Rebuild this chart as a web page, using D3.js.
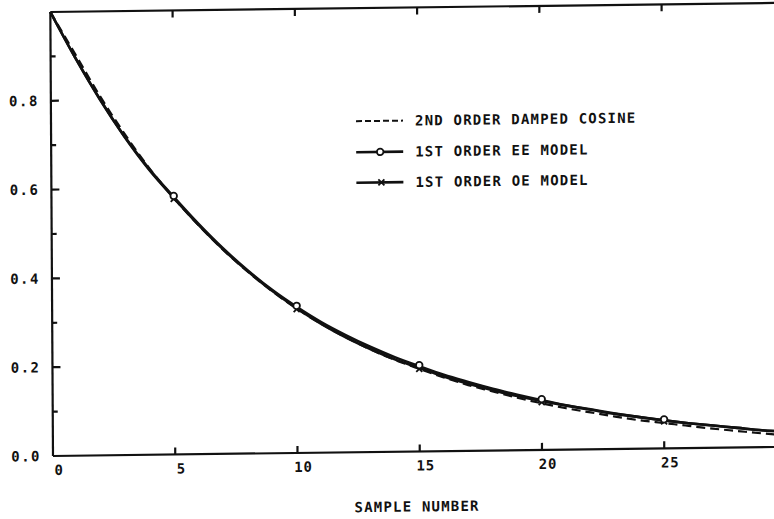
<!DOCTYPE html>
<html>
<head>
<meta charset="utf-8">
<script src="https://cdn.jsdelivr.net/npm/d3@7"></script>
<style>
  body { margin: 0; background: #fff; }
  text { font-family: "DejaVu Sans Mono", monospace; font-weight: bold; fill: #111; }
</style>
</head>
<body>
<div id="chart"></div>
<script>
// sample numbers
const samples = [0, 1, 2, 3, 4, 5, 6, 7, 8, 9, 10, 11, 12, 13, 14, 15, 16, 17, 18, 19, 20,
                 21, 22, 23, 24, 25, 26, 27, 28, 29, 30];

// 2nd order damped cosine (dashed)
const dampedCosine = [1.000, .905, .810, .724, .646, .578, .516, .460, .410, .365, .325,
                      .290, .259, .231, .207, .186, .166, .148, .133, .118, .105,
                      .093, .083, .073, .064, .057, .050, .043, .037, .031, .026];
// 1st order equation-error model (circles)
const eeModel = [1.000, .897, .803, .718, .644, .580, .519, .463, .413, .368, .329,
                 .294, .264, .237, .213, .192, .172, .155, .139, .125, .112,
                 .100, .090, .080, .071, .063, .056, .050, .044, .038, .034];
// 1st order output-error model (crosses)
const oeModel = [1.000, .897, .802, .717, .642, .578, .517, .461, .411, .366, .326,
                 .290, .259, .232, .208, .188, .168, .151, .136, .122, .110,
                 .099, .089, .079, .071, .063, .056, .050, .044, .038, .034];

const markerSamples = [5, 10, 15, 20, 25];
const xTicks = [0, 5, 10, 15, 20, 25];
const yTicks = [0, 0.2, 0.4, 0.6, 0.8];
const yMinorTicks = [0.1, 0.3, 0.5, 0.7, 0.9];
const legendLabels = ["2ND ORDER DAMPED COSINE", "1ST ORDER EE MODEL", "1ST ORDER OE MODEL"];
const axisTitle = "SAMPLE NUMBER";

const W = 774, H = 519;
const x0 = 53, yBase = 456, yTop = 12;
const unit = 24.45;

const svg = d3.select("#chart").append("svg")
  .attr("width", W).attr("height", H);

// the scanned page is slightly skewed
const sb = -0.0125, sc = 0.006;
const g = svg.append("g")
  .attr("transform", `matrix(1,${sb},${sc},1,${-sc * yBase},${-sb * x0})`);

const xScale = d3.scaleLinear().domain([0, 30]).range([x0, x0 + unit * 30]);
const yScale = d3.scaleLinear().domain([0, 1]).range([yBase, yTop]);

const ink = "#111";

// frame lines
const frame = g.append("g").attr("stroke", ink).attr("stroke-width", 2.2).attr("fill", "none");
frame.append("line").attr("x1", xScale(0)).attr("x2", xScale(30)).attr("y1", yScale(0)).attr("y2", yScale(0));
frame.append("line").attr("x1", xScale(0)).attr("x2", xScale(30)).attr("y1", yScale(1)).attr("y2", yScale(1));
frame.append("line").attr("x1", xScale(0)).attr("x2", xScale(0)).attr("y1", yScale(0)).attr("y2", yScale(1));

// x ticks, bottom (up) and top (down)
const xt = xTicks.filter(d => d > 0);
frame.selectAll(".xb").data(xt).join("line")
  .attr("x1", d => xScale(d)).attr("x2", d => xScale(d))
  .attr("y1", yScale(0)).attr("y2", yScale(0) - 7);
frame.selectAll(".xt").data(xt).join("line")
  .attr("x1", d => xScale(d)).attr("x2", d => xScale(d))
  .attr("y1", yScale(1)).attr("y2", yScale(1) + 7);

// y ticks, inward
frame.selectAll(".ym").data(yTicks.filter(d => d > 0)).join("line")
  .attr("x1", xScale(0)).attr("x2", xScale(0) + 8)
  .attr("y1", d => yScale(d)).attr("y2", d => yScale(d));
frame.selectAll(".yn").data(yMinorTicks).join("line")
  .attr("x1", xScale(0)).attr("x2", xScale(0) + 5)
  .attr("y1", d => yScale(d)).attr("y2", d => yScale(d));

// tick labels
g.selectAll(".xl").data(xTicks).join("text")
  .attr("x", d => xScale(d) + 6).attr("y", yBase + 19)
  .attr("text-anchor", "middle")
  .style("font-size", "14px").style("letter-spacing", "1px")
  .text(d => d);
g.selectAll(".yl").data(yTicks).join("text")
  .attr("x", 41).attr("y", d => yScale(d) + 5)
  .attr("text-anchor", "end")
  .style("font-size", "14px").style("letter-spacing", "1.5px")
  .text(d => d.toFixed(1));

g.append("text")
  .attr("x", xScale(15) - 3).attr("y", yBase + 60)
  .attr("text-anchor", "middle")
  .style("font-size", "14px").style("letter-spacing", "1.2px")
  .text(axisTitle);

// curves
const line = d3.line()
  .x((d, i) => xScale(samples[i]))
  .y(d => yScale(d))
  .curve(d3.curveMonotoneX);

g.append("path").datum(dampedCosine)
  .attr("d", line).attr("fill", "none")
  .attr("stroke", ink).attr("stroke-width", 2.2).attr("stroke-dasharray", "9,5");
g.append("path").datum(oeModel)
  .attr("d", line).attr("fill", "none")
  .attr("stroke", ink).attr("stroke-width", 2.6);
g.append("path").datum(eeModel)
  .attr("d", line).attr("fill", "none")
  .attr("stroke", ink).attr("stroke-width", 2.6);

// markers
function cross(sel, cx, cy) {
  sel.append("path")
    .attr("d", `M${cx - 3},${cy - 3}L${cx + 3},${cy + 3}M${cx + 3},${cy - 3}L${cx - 3},${cy + 3}`)
    .attr("stroke", ink).attr("stroke-width", 1.8);
}
markerSamples.forEach(s => {
  cross(g, xScale(s), yScale(oeModel[s]) + 1);
});
g.selectAll(".ee").data(markerSamples).join("circle")
  .attr("cx", d => xScale(d)).attr("cy", d => yScale(eeModel[d]) - 1)
  .attr("r", 3.3).attr("fill", "#fff").attr("stroke", ink).attr("stroke-width", 1.8);

// legend
const legY = [125, 156, 186.5];
const lx1 = 358, lx2 = 405, ltx = 417;
const leg = g.append("g");
leg.append("line").attr("x1", lx1).attr("x2", lx2).attr("y1", legY[0]).attr("y2", legY[0])
  .attr("stroke", ink).attr("stroke-width", 2).attr("stroke-dasharray", "6,3");
leg.append("line").attr("x1", lx1).attr("x2", lx2).attr("y1", legY[1]).attr("y2", legY[1])
  .attr("stroke", ink).attr("stroke-width", 2.6);
leg.append("circle").attr("cx", 382).attr("cy", legY[1]).attr("r", 3.3)
  .attr("fill", "#fff").attr("stroke", ink).attr("stroke-width", 1.8);
leg.append("line").attr("x1", lx1).attr("x2", lx2).attr("y1", legY[2]).attr("y2", legY[2])
  .attr("stroke", ink).attr("stroke-width", 2.6);
cross(leg, 383, legY[2]);
leg.selectAll(".lt").data(legendLabels).join("text")
  .attr("x", ltx).attr("y", (d, i) => legY[i] + 5)
  .style("font-size", "14px").style("letter-spacing", "1.2px")
  .text(d => d);
</script>
</body>
</html>
